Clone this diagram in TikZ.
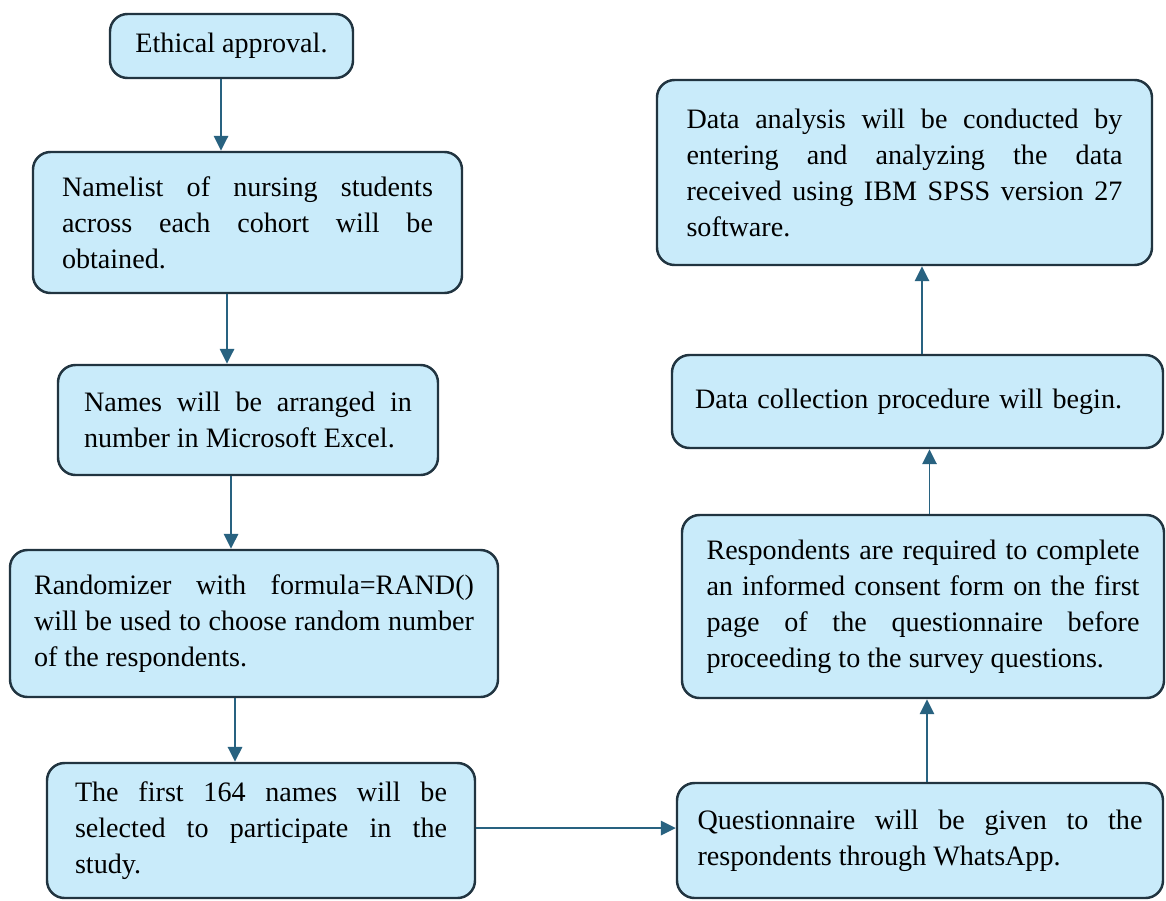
\documentclass[tikz,border=0pt]{standalone}
\usepackage{fontspec}
\setmainfont{Liberation Serif}
\usetikzlibrary{arrows.meta}
\definecolor{boxfill}{RGB}{201,235,250}
\definecolor{boxline}{RGB}{33,52,64}
\definecolor{flowline}{RGB}{40,98,128}
\hbadness=10000
\hyphenpenalty=10000

\begin{document}
\begin{tikzpicture}[
  box/.style={rectangle, rounded corners=0.35cm, draw=boxline, line width=1.4pt, fill=boxfill, inner sep=0pt, align=justify, font=\fontsize{16}{20.5}\selectfont},
  flow/.style={draw=flowline, line width=1pt, -{Triangle[width=0.29cm, length=0.3cm]}}]
  \useasboundingbox (0,0) rectangle (23.32,-18);
  \filldraw[fill=white, draw=none] (0,0) rectangle (23.32,-18);
  \node[box, minimum width=4.86cm, minimum height=1.28cm, align=center] (A) at (4.63,-0.92) {Ethical approval.};
  \node[box, minimum width=8.58cm, minimum height=2.82cm, text width=7.42cm] (B) at (4.95,-4.45) {Namelist of nursing students\linebreak across each cohort will be\linebreak obtained.};
  \node[box, minimum width=7.6cm, minimum height=2.2cm, text width=6.56cm] (C) at (4.96,-8.4) {Names will be arranged in\linebreak number in Microsoft Excel.};
  \node[box, minimum width=9.76cm, minimum height=2.94cm, text width=8.8cm] (D) at (5.08,-12.47) {Randomizer with formula=RAND()\linebreak will be used to choose random number\linebreak of the respondents.};
  \node[box, minimum width=8.56cm, minimum height=2.7cm, text width=7.44cm] (E) at (5.22,-16.61) {The first 164 names will be\linebreak selected to participate in the\linebreak study.};
  \node[box, minimum width=9.72cm, minimum height=2.3cm, text width=8.9cm] (F) at (18.4,-16.81) {Questionnaire will be given to the\linebreak respondents through WhatsApp.};
  \node[box, minimum width=9.64cm, minimum height=3.66cm, text width=8.66cm] (G) at (18.46,-12.13) {Respondents are required to complete\linebreak an informed consent form on the first\linebreak page of the questionnaire before\linebreak proceeding to the survey questions.};
  \node[box, minimum width=9.82cm, minimum height=1.86cm, text width=8.9cm, align=left] (H) at (18.35,-8.03) {Data collection procedure will begin.};
  \node[box, minimum width=9.9cm, minimum height=3.7cm, text width=8.72cm] (I) at (18.09,-3.45) {Data analysis will be conducted by\linebreak entering and analyzing the data\linebreak received using IBM SPSS version 27\linebreak software.};
  \draw[flow] ([xshift=-0.21cm]A.south) -- ([xshift=-0.21cm]A.south |- B.north);
  \draw[flow] ([xshift=-0.41cm]B.south) -- ([xshift=-0.41cm]B.south |- C.north);
  \draw[flow] ([xshift=-0.34cm]C.south) -- ([xshift=-0.34cm]C.south |- D.north);
  \draw[flow] ([xshift=-0.38cm]D.south) -- ([xshift=-0.38cm]D.south |- E.north);
  \draw[flow] ([yshift=0.05cm]E.east) -- ([yshift=0.05cm]E.east -| F.west);
  \draw[flow] ([xshift=0.14cm]F.north) -- ([xshift=0.14cm]F.north |- G.south);
  \draw[flow] ([xshift=0.13cm]G.north) -- ([xshift=0.13cm]G.north |- H.south);
  \draw[flow] ([xshift=0.09cm]H.north) -- ([xshift=0.09cm]H.north |- I.south);
\end{tikzpicture}
\end{document}
